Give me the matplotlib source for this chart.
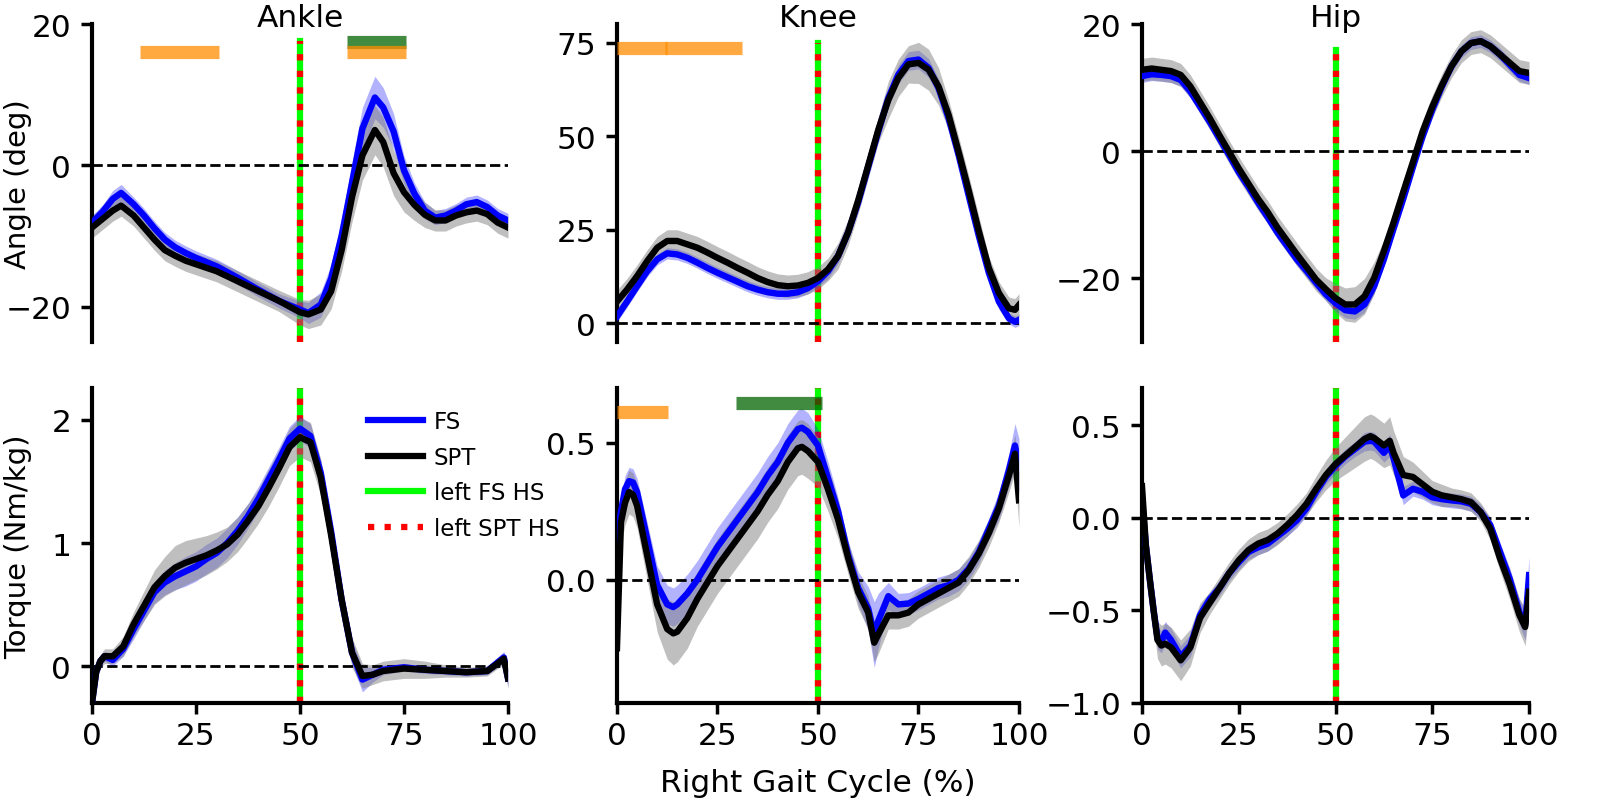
import numpy as np
import matplotlib
matplotlib.use("Agg")
import matplotlib.pyplot as plt
from matplotlib.lines import Line2D

# ---------------- data ----------------
joints = ["Ankle", "Knee", "Hip"]
row_labels = ["Angle (deg)", "Torque (Nm/kg)"]
xticks_vals = [0, 25, 50, 75, 100]
left_fs_hs = 50.0
left_spt_hs = 50.0

# Ankle angle
ankle_angle_x = [0, 2.5, 5, 7, 10, 12.5, 15, 17.5, 20, 22.5, 25, 30, 35, 40, 45, 50, 52, 55, 57.5, 60,
                 62.5, 65, 68, 70, 72.5, 75, 77.5, 80, 82.5, 85, 87.5, 90, 92.5, 95, 97.5, 100]
ankle_angle_fs = [-8.1, -6.6, -4.75, -3.9, -5.5, -7.1, -8.9, -10.5, -11.6, -12.4, -13.1, -14.3, -15.9, -17.6,
                  -19.2, -20.4, -20.9, -19.7, -16.0, -10.0, -2.5, 5.2, 9.6, 8.2, 4.8, -0.7, -4.0, -6.4,
                  -7.4, -7.1, -6.4, -5.5, -5.2, -5.9, -7.1, -7.8]
ankle_angle_fs_sd = [1.0, 1.0, 1.2, 1.2, 1.0, 1.0, 1.0, 1.0, 1.0, 1.0, 1.0, 1.0, 1.0, 1.0, 1.0, 1.2, 1.5, 1.8,
                     2.0, 2.5, 3.0, 3.0, 3.0, 2.8, 2.5, 2.0, 1.5, 1.2, 1.0, 1.0, 1.0, 1.0, 1.0, 1.0, 1.0, 1.0]
ankle_angle_spt = [-8.8, -7.6, -6.4, -5.7, -7.1, -8.8, -10.5, -12.0, -12.8, -13.5, -14.0, -15.0, -16.4, -17.8,
                   -19.2, -20.8, -21.1, -20.4, -17.8, -12.0, -4.5, 1.4, 5.0, 3.3, -1.1, -3.8, -5.6, -7.0,
                   -7.8, -7.8, -7.1, -6.65, -6.4, -6.9, -8.1, -8.8]
ankle_angle_spt_sd = [1.5, 1.5, 1.5, 1.5, 1.5, 1.5, 1.5, 1.5, 1.5, 1.5, 1.5, 1.5, 1.5, 1.5, 1.5, 1.8, 2.0, 2.2,
                      2.5, 3.0, 3.5, 3.5, 3.5, 3.5, 3.2, 2.8, 2.2, 1.8, 1.5, 1.5, 1.5, 1.5, 1.5, 1.5, 1.5, 1.5]
ankle_angle_sig_orange = [(11.5, 30.5), (61.3, 75.5)]
ankle_angle_sig_green = [(61.3, 75.5)]

# Knee angle
knee_angle_x = [0, 2.5, 5, 7.5, 10, 12.5, 15, 17.5, 20, 22.5, 25, 27.5, 30, 32.5, 35, 37.5, 40, 42.5, 45,
                47.5, 50, 52.5, 55, 57.5, 60, 62.5, 65, 67.5, 70, 72.5, 75, 77.5, 80, 82.5, 85, 87.5, 90,
                92.5, 95, 97.5, 99, 100]
knee_angle_fs = [1.8, 5.8, 9.9, 13.9, 17.1, 18.7, 18.4, 17.5, 16.2, 14.8, 13.5, 12.3, 11.1, 9.9, 9.0, 8.3,
                 7.9, 7.9, 8.3, 9.4, 11.2, 13.9, 18.0, 24.3, 32.3, 41.8, 51.2, 60.2, 66.5, 70.1, 70.5, 68.3,
                 62.9, 54.8, 44.9, 34.1, 23.4, 13.5, 5.8, 1.3, 0.4, 0.9]
knee_angle_fs_sd = [1.5, 1.5, 1.5, 1.5, 1.5, 1.5, 1.5, 1.5, 1.5, 1.5, 1.5, 1.5, 1.5, 1.5, 1.5, 1.5, 1.5, 1.5,
                    1.5, 1.5, 1.5, 2.0, 2.0, 2.0, 2.0, 2.0, 2.0, 2.5, 2.5, 2.5, 2.5, 2.5, 2.5, 2.5, 2.0, 2.0,
                    2.0, 2.0, 2.0, 1.5, 1.5, 1.5]
knee_angle_spt = [5.8, 9.0, 12.6, 16.6, 20.2, 22.0, 22.0, 21.1, 20.2, 18.9, 17.5, 16.2, 14.8, 13.5, 12.1,
                  11.0, 10.2, 9.9, 10.1, 10.8, 12.1, 14.4, 18.0, 24.3, 32.8, 42.2, 51.7, 59.7, 65.6, 69.2,
                  69.6, 67.8, 63.3, 55.7, 45.8, 35.5, 24.7, 14.8, 8.1, 4.0, 3.6, 4.9]
knee_angle_spt_sd = [3.0, 3.0, 3.0, 3.0, 3.0, 3.0, 3.0, 3.0, 3.0, 3.0, 3.0, 3.0, 3.0, 3.0, 3.0, 3.0, 3.0, 3.0,
                     3.0, 3.0, 3.0, 3.0, 3.5, 3.5, 3.5, 3.5, 3.5, 5.0, 5.0, 5.0, 5.5, 5.5, 5.0, 4.0, 4.0, 4.0,
                     4.0, 3.0, 3.0, 3.0, 3.0, 3.0]
knee_angle_sig_orange = [(0.0, 12.5), (12.0, 31.0)]
knee_angle_sig_green = []

# Hip angle
hip_angle_x = [0, 2.5, 5, 7.5, 10, 12.5, 15, 17.5, 20, 22.5, 25, 27.5, 30, 32.5, 35, 37.5, 40, 42.5, 45,
               47.5, 50, 52.5, 55, 57.5, 60, 62.5, 65, 67.5, 70, 72.5, 75, 77.5, 80, 82.5, 85, 87.5, 90,
               92.5, 95, 97.5, 100]
hip_angle_fs = [11.8, 12.1, 12.0, 11.8, 11.2, 9.4, 7.0, 4.6, 2.0, -0.6, -3.3, -5.6, -8.1, -10.4, -12.8,
                -14.9, -17.0, -18.8, -20.7, -22.5, -23.9, -25.0, -25.2, -24.1, -21.2, -17.0, -12.2, -7.5,
                -2.5, 2.3, 6.5, 10.2, 13.4, 15.7, 17.0, 17.3, 16.5, 15.2, 13.6, 12.0, 11.5]
hip_angle_fs_sd = [1.0] * 20 + [1.2, 1.2, 1.2, 1.2, 1.2] + [1.0] * 16
hip_angle_spt = [12.8, 13.0, 12.8, 12.6, 12.0, 10.2, 7.7, 5.2, 2.5, -0.1, -2.7, -5.1, -7.5, -9.6, -12.0,
                 -14.1, -16.2, -18.2, -20.2, -21.7, -23.1, -24.1, -24.1, -22.8, -19.9, -15.7, -11.2, -6.4,
                 -1.7, 3.1, 7.0, 10.4, 13.4, 15.7, 17.0, 17.3, 16.5, 15.2, 13.9, 12.6, 12.3]
hip_angle_spt_sd = [1.8] * 20 + [2.3, 2.6, 2.8, 2.8, 2.5] + [1.8] * 16
hip_angle_sig_orange = []
hip_angle_sig_green = []

# Ankle torque
ankle_torque_x = [0, 1, 2, 3, 5, 7.5, 10, 12.5, 15, 17.5, 20, 22.5, 25, 27.5, 30, 32.5, 35, 37.5, 40,
                  42.5, 45, 47.5, 50, 52.5, 55, 57.5, 60, 62.5, 65, 67.5, 70, 75, 80, 85, 90, 95, 97.5, 99, 100]
ankle_torque_fs = [-0.3, -0.05, 0.04, 0.08, 0.05, 0.14, 0.30, 0.45, 0.60, 0.68, 0.73, 0.77, 0.81, 0.87,
                   0.92, 1.00, 1.10, 1.22, 1.36, 1.52, 1.68, 1.85, 1.93, 1.87, 1.57, 1.09, 0.54, 0.11,
                   -0.11, -0.07, -0.03, -0.01, -0.03, -0.04, -0.05, -0.04, 0.03, 0.07, -0.10]
ankle_torque_fs_sd = [0.03, 0.04, 0.04, 0.04, 0.05, 0.06, 0.08, 0.08, 0.09, 0.1, 0.11, 0.12, 0.12, 0.12,
                      0.12, 0.12, 0.11, 0.1, 0.1, 0.1, 0.1, 0.1, 0.1, 0.1, 0.1, 0.1, 0.1, 0.1, 0.1, 0.06,
                      0.04, 0.03, 0.03, 0.03, 0.03, 0.03, 0.04, 0.05, 0.08]
ankle_torque_spt = [-0.3, -0.05, 0.04, 0.08, 0.08, 0.16, 0.34, 0.49, 0.64, 0.73, 0.80, 0.84, 0.87, 0.90,
                    0.94, 0.99, 1.07, 1.18, 1.30, 1.45, 1.61, 1.78, 1.86, 1.82, 1.53, 1.06, 0.54, 0.11,
                    -0.08, -0.07, -0.04, -0.02, -0.03, -0.04, -0.05, -0.04, 0.02, 0.06, -0.10]
ankle_torque_spt_sd = [0.05, 0.05, 0.05, 0.06, 0.06, 0.08, 0.1, 0.12, 0.14, 0.16, 0.18, 0.18, 0.17, 0.16,
                       0.15, 0.14, 0.14, 0.14, 0.14, 0.15, 0.15, 0.15, 0.16, 0.16, 0.15, 0.14, 0.13, 0.12,
                       0.1, 0.08, 0.08, 0.08, 0.07, 0.05, 0.04, 0.04, 0.04, 0.05, 0.08]
ankle_torque_sig_orange = []
ankle_torque_sig_green = []

# Knee torque
knee_torque_x = [0, 1, 2, 3, 4, 5, 7.5, 10, 12.5, 14, 15, 17.5, 20, 22.5, 25, 27.5, 30, 32.5, 35, 37.5,
                 40, 42.5, 45, 46, 47.5, 50, 52.5, 55, 57.5, 60, 62.5, 64, 65, 67.5, 70, 72.5, 75, 77.5,
                 80, 82.5, 85, 87.5, 90, 92.5, 95, 97.5, 99, 100]
knee_torque_fs = [0.15, 0.25, 0.33, 0.36, 0.355, 0.32, 0.15, -0.02, -0.09, -0.10, -0.09, -0.05, 0.0, 0.06,
                  0.12, 0.17, 0.22, 0.27, 0.32, 0.38, 0.43, 0.50, 0.55, 0.555, 0.54, 0.49, 0.37, 0.25,
                  0.09, -0.03, -0.105, -0.20, -0.15, -0.06, -0.09, -0.087, -0.07, -0.05, -0.03, -0.02,
                  0.0, 0.04, 0.10, 0.185, 0.27, 0.40, 0.49, 0.415]
knee_torque_fs_sd = [0.05, 0.05, 0.05, 0.05, 0.05, 0.05, 0.06, 0.07, 0.07, 0.07, 0.07, 0.07, 0.07, 0.07,
                     0.07, 0.07, 0.07, 0.07, 0.07, 0.07, 0.07, 0.07, 0.07, 0.07, 0.07, 0.06, 0.06, 0.05,
                     0.05, 0.06, 0.08, 0.12, 0.1, 0.05, 0.04, 0.04, 0.04, 0.04, 0.04, 0.04, 0.04, 0.04,
                     0.04, 0.04, 0.05, 0.06, 0.08, 0.1]
knee_torque_spt = [-0.25, 0.21, 0.28, 0.32, 0.31, 0.27, 0.09, -0.09, -0.18, -0.196, -0.19, -0.14, -0.07,
                   -0.01, 0.05, 0.10, 0.15, 0.20, 0.25, 0.31, 0.36, 0.43, 0.48, 0.485, 0.47, 0.43, 0.33,
                   0.22, 0.08, -0.045, -0.12, -0.23, -0.20, -0.13, -0.13, -0.12, -0.09, -0.07, -0.05,
                   -0.03, -0.01, 0.035, 0.095, 0.17, 0.26, 0.38, 0.46, 0.29]
knee_torque_spt_sd = [0.08, 0.08, 0.08, 0.08, 0.08, 0.08, 0.09, 0.1, 0.11, 0.115, 0.11, 0.11, 0.1, 0.1,
                      0.1, 0.1, 0.1, 0.1, 0.1, 0.1, 0.1, 0.1, 0.1, 0.1, 0.1, 0.09, 0.08, 0.07, 0.06, 0.06,
                      0.06, 0.07, 0.07, 0.05, 0.05, 0.05, 0.05, 0.05, 0.05, 0.05, 0.05, 0.05, 0.05, 0.05,
                      0.05, 0.06, 0.07, 0.1]
knee_torque_sig_orange = [(0.0, 12.6)]
knee_torque_sig_green = [(29.6, 50.9)]

# Hip torque
hip_torque_x = [0, 1, 2, 3, 4, 5, 6, 7.5, 10, 12.5, 15, 17.5, 20, 22.5, 25, 27.5, 30, 32.5, 35, 37.5, 40,
                42.5, 45, 47.5, 50, 52.5, 55, 57.5, 59, 60, 62.5, 64, 65, 67.5, 70, 72.5, 75, 77.5, 80,
                82.5, 85, 87.5, 90, 92.5, 95, 97.5, 99, 100]
hip_torque_fs = [0.10, -0.15, -0.33, -0.5, -0.65, -0.67, -0.62, -0.66, -0.75, -0.69, -0.525, -0.44, -0.38,
                 -0.30, -0.24, -0.185, -0.16, -0.14, -0.10, -0.06, -0.014, 0.05, 0.14, 0.22, 0.28, 0.33,
                 0.37, 0.41, 0.415, 0.41, 0.35, 0.39, 0.32, 0.12, 0.156, 0.14, 0.11, 0.10, 0.093, 0.088,
                 0.075, 0.03, -0.04, -0.185, -0.33, -0.51, -0.58, -0.31]
hip_torque_fs_sd = [0.05, 0.05, 0.05, 0.05, 0.06, 0.06, 0.06, 0.06, 0.06, 0.06, 0.05, 0.04, 0.04, 0.04,
                    0.04, 0.04, 0.04, 0.04, 0.04, 0.04, 0.04, 0.04, 0.04, 0.04, 0.04, 0.04, 0.04, 0.05,
                    0.05, 0.05, 0.05, 0.06, 0.06, 0.05, 0.04, 0.04, 0.04, 0.04, 0.04, 0.04, 0.04, 0.04,
                    0.04, 0.05, 0.06, 0.07, 0.08, 0.1]
hip_torque_spt = [0.17, -0.15, -0.33, -0.5, -0.66, -0.69, -0.68, -0.70, -0.77, -0.70, -0.54, -0.46, -0.38,
                  -0.30, -0.23, -0.175, -0.14, -0.12, -0.086, -0.04, 0.013, 0.075, 0.156, 0.23, 0.29,
                  0.335, 0.38, 0.425, 0.44, 0.43, 0.39, 0.415, 0.35, 0.23, 0.22, 0.18, 0.14, 0.12, 0.11,
                  0.10, 0.084, 0.03, -0.06, -0.22, -0.36, -0.525, -0.59, -0.40]
hip_torque_spt_sd = [0.06, 0.07, 0.08, 0.09, 0.1, 0.11, 0.11, 0.11, 0.11, 0.1, 0.08, 0.06, 0.06, 0.06,
                     0.06, 0.06, 0.06, 0.06, 0.06, 0.06, 0.06, 0.06, 0.07, 0.08, 0.09, 0.1, 0.11, 0.12,
                     0.12, 0.12, 0.12, 0.13, 0.12, 0.1, 0.08, 0.07, 0.06, 0.06, 0.05, 0.05, 0.05, 0.05,
                     0.06, 0.07, 0.08, 0.09, 0.1, 0.1]
hip_torque_sig_orange = []
hip_torque_sig_green = []

# ---------------- layout / styling ----------------
plt.rcParams["font.family"] = ["DejaVu Sans"]
fig = plt.figure(figsize=(16, 8.04), dpi=100)

col_left = [0.0575, 0.3856, 0.71375]
col_width = [0.26, 0.25125, 0.2419]
row_bottom = [0.5734, 0.1244]
row_height = [0.3955, 0.3918]

panels = [
    dict(r=0, c=0, x=ankle_angle_x, fs=ankle_angle_fs, fs_sd=ankle_angle_fs_sd, spt=ankle_angle_spt,
         spt_sd=ankle_angle_spt_sd, ylim=(-25, 20), yticks=[-20, 0, 20], vmax=0.947,
         so=ankle_angle_sig_orange, sg=ankle_angle_sig_green, yo=16.1, yg=17.4),
    dict(r=0, c=1, x=knee_angle_x, fs=knee_angle_fs, fs_sd=knee_angle_fs_sd, spt=knee_angle_spt,
         spt_sd=knee_angle_spt_sd, ylim=(-5, 80), yticks=[0, 25, 50, 75], vmax=0.941,
         so=knee_angle_sig_orange, sg=knee_angle_sig_green, yo=73.5, yg=75.0),
    dict(r=0, c=2, x=hip_angle_x, fs=hip_angle_fs, fs_sd=hip_angle_fs_sd, spt=hip_angle_spt,
         spt_sd=hip_angle_spt_sd, ylim=(-30, 20), yticks=[-20, 0, 20], vmax=0.918,
         so=hip_angle_sig_orange, sg=hip_angle_sig_green, yo=16.0, yg=17.0),
    dict(r=1, c=0, x=ankle_torque_x, fs=ankle_torque_fs, fs_sd=ankle_torque_fs_sd, spt=ankle_torque_spt,
         spt_sd=ankle_torque_spt_sd, ylim=(-0.3, 2.26), yticks=[0, 1, 2], vmax=1.0,
         so=ankle_torque_sig_orange, sg=ankle_torque_sig_green, yo=2.1, yg=2.2),
    dict(r=1, c=1, x=knee_torque_x, fs=knee_torque_fs, fs_sd=knee_torque_fs_sd, spt=knee_torque_spt,
         spt_sd=knee_torque_spt_sd, ylim=(-0.45, 0.7), yticks=[0.0, 0.5], vmax=1.0,
         so=knee_torque_sig_orange, sg=knee_torque_sig_green, yo=0.612, yg=0.645),
    dict(r=1, c=2, x=hip_torque_x, fs=hip_torque_fs, fs_sd=hip_torque_fs_sd, spt=hip_torque_spt,
         spt_sd=hip_torque_spt_sd, ylim=(-1.0, 0.7), yticks=[-1.0, -0.5, 0.0, 0.5], vmax=1.0,
         so=hip_torque_sig_orange, sg=hip_torque_sig_green, yo=0.6, yg=0.65),
]

FS_TICK = 22.5
FS_YLAB = 21
axes = {}
for p in panels:
    r, c = p["r"], p["c"]
    ax = fig.add_axes([col_left[c], row_bottom[r], col_width[c], row_height[r]])
    axes[(r, c)] = ax
    x = np.asarray(p["x"], float)
    fs = np.asarray(p["fs"], float)
    fs_sd = np.asarray(p["fs_sd"], float)
    spt = np.asarray(p["spt"], float)
    spt_sd = np.asarray(p["spt_sd"], float)

    ax.axvline(left_fs_hs, ymin=0, ymax=p["vmax"], color="lime", lw=4.5, zorder=1)
    ax.axvline(left_spt_hs, ymin=0, ymax=p["vmax"], color="red", lw=4.5, ls=":", zorder=1.1)

    ax.fill_between(x, fs - fs_sd, fs + fs_sd, color="blue", alpha=0.3, lw=0, zorder=2)
    ax.fill_between(x, spt - spt_sd, spt + spt_sd, color="grey", alpha=0.5, lw=0, zorder=2.1)
    ax.axhline(0, color="black", ls="--", lw=2, zorder=2.5)
    ax.plot(x, fs, color="blue", lw=4.6, zorder=3, solid_joinstyle="round")
    ax.plot(x, spt, color="black", lw=4.6, zorder=3.1, solid_joinstyle="round")

    for (a, b) in p["sg"]:
        ax.plot([a, b], [p["yg"], p["yg"]], color="darkgreen", alpha=0.75, lw=9.5,
                solid_capstyle="butt", zorder=4)
    for (a, b) in p["so"]:
        ax.plot([a, b], [p["yo"], p["yo"]], color="darkorange", alpha=0.75, lw=9.5,
                solid_capstyle="butt", zorder=4.1)

    ax.set_xlim(0, 100)
    ax.set_ylim(*p["ylim"])
    ax.set_yticks(p["yticks"])
    for s in ["top", "right"]:
        ax.spines[s].set_visible(False)
    ax.spines["left"].set_linewidth(3)
    ax.spines["bottom"].set_linewidth(3)
    ax.tick_params(axis="both", labelsize=FS_TICK, width=2.5, length=8, pad=7)
    if r == 0:
        ax.spines["bottom"].set_visible(False)
        ax.set_xticks([])
        ax.text(0.5, 0.994, joints[c], transform=ax.transAxes, ha="center", va="baseline",
                fontsize=FS_TICK)
    else:
        ax.set_xticks(xticks_vals)
        ax.tick_params(axis="x", pad=5)
    if c == 0:
        ax.set_ylabel(row_labels[r], fontsize=FS_YLAB)
        ax.yaxis.set_label_coords(-0.145, 0.5)

axes[(1, 1)].set_xlabel("Right Gait Cycle (%)", fontsize=FS_TICK, labelpad=13)

handles = [Line2D([], [], color="blue", lw=4.5),
           Line2D([], [], color="black", lw=4.5),
           Line2D([], [], color="lime", lw=4.5),
           Line2D([], [], color="red", lw=4.5, ls=":")]
axes[(1, 0)].legend(handles, ["FS", "SPT", "left FS HS", "left SPT HS"], loc="upper left",
                    bbox_to_anchor=(0.615, 0.995), frameon=False, fontsize=16.5,
                    handlelength=2.4, labelspacing=0.55, handletextpad=0.45)

fig.savefig("out.png", dpi=100)
